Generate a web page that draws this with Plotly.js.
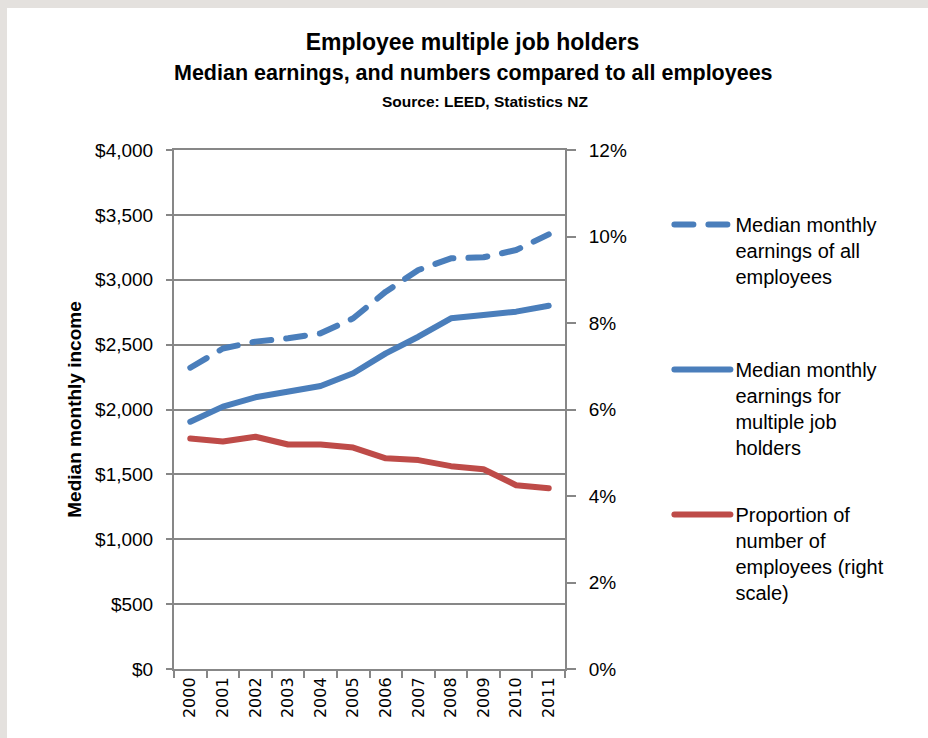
<!DOCTYPE html>
<html>
<head>
<meta charset="utf-8">
<script src="https://cdn.plot.ly/plotly-3.0.1.min.js"></script>
<style>
  html, body { margin: 0; padding: 0; background: #e4e1de; width: 928px; height: 738px; overflow: hidden; }
  #chart { position: absolute; left: 7px; top: 8px; width: 921px; height: 730px; background: #ffffff; }
  #chart .js-line { stroke-linecap: round; stroke-linejoin: round; }
  #chart .legendlines path { stroke-linecap: round; }
</style>
</head>
<body>
<div id="chart"></div>
<script>
const years = ["2000","2001","2002","2003","2004","2005","2006","2007","2008","2009","2010","2011"];
const allEmployees = [2322, 2470, 2523, 2549, 2587, 2703, 2908, 3075, 3165, 3173, 3229, 3350];
const multipleJob = [1906, 2022, 2094, 2137, 2181, 2279, 2433, 2561, 2703, 2728, 2754, 2800];
const proportion = [5.33, 5.26, 5.37, 5.19, 5.19, 5.12, 4.87, 4.83, 4.69, 4.62, 4.25, 4.18];

const names = [
  "Median monthly<br>earnings of all<br>employees<br>\u00a0",
  "Median monthly<br>earnings for<br>multiple job<br>holders",
  "Proportion of<br>number of<br>employees (right<br>scale)"
];
const titleLines = [
  "Employee multiple job holders",
  "Median earnings, and numbers compared to all employees",
  "Source: LEED, Statistics NZ"
];

const blue = "#4a7ebb";
const red = "#be4b48";
const grey = "#878787";
const fontFam = "Liberation Sans, Arial, sans-serif";

const traces = [
  { x: years, y: allEmployees, name: names[0], type: "scatter", mode: "lines",
    line: { color: blue, width: 6, dash: "19px,15px" }, legendgroup: "a", yaxis: "y" },
  { x: years, y: multipleJob, name: names[1], type: "scatter", mode: "lines",
    line: { color: blue, width: 6 }, legendgroup: "b", yaxis: "y" },
  { x: years, y: proportion, name: names[2], type: "scatter", mode: "lines",
    line: { color: red, width: 6 }, legendgroup: "c", yaxis: "y2" }
];

const layout = {
  width: 921, height: 730,
  paper_bgcolor: "#ffffff", plot_bgcolor: "#ffffff",
  margin: { l: 167, r: 363, t: 142, b: 69 },
  font: { family: fontFam, color: "#000000", size: 19 },
  title: {
    text: "<b>" + titleLines[0] + "</b>",
    font: { family: fontFam, size: 23, color: "#000000" },
    x: (472.5 - 7) / 921, xanchor: "center",
    yref: "container", y: 1 - 34 / 730, yanchor: "middle"
  },
  annotations: [
    { text: "<b>" + titleLines[1] + "</b>", xref: "paper", yref: "paper",
      x: (473.5 - 174) / 391, y: (661 - 65) / 519, xanchor: "center", yanchor: "middle",
      showarrow: false, font: { family: fontFam, size: 21.5, color: "#000000" } },
    { text: "<b>" + titleLines[2] + "</b>", xref: "paper", yref: "paper",
      x: (484.5 - 174) / 391, y: (661 - 93) / 519, xanchor: "center", yanchor: "middle",
      showarrow: false, font: { family: fontFam, size: 15.5, color: "#000000" } }
  ],
  showlegend: true,
  legend: {
    x: 1.267, xanchor: "left", y: 0.894, yanchor: "top",
    font: { family: fontFam, size: 20, color: "#000000" },
    itemwidth: 56, valign: "top", traceorder: "grouped", tracegroupgap: 38,
    bgcolor: "rgba(0,0,0,0)"
  },
  xaxis: {
    type: "category", categoryorder: "array", categoryarray: years,
    range: [-0.5, 11.5], showgrid: false, zeroline: false,
    showline: true, mirror: true, linecolor: grey, linewidth: 2,
    ticks: "outside", tickson: "boundaries", ticklen: 7, tickwidth: 2, tickcolor: grey,
    tickangle: -90,
    tickfont: { family: "DejaVu Sans, sans-serif", size: 16, color: "#000000" },
    fixedrange: true
  },
  yaxis: {
    range: [0, 4000], dtick: 500, tick0: 0, tickprefix: "$", tickformat: ",d",
    showgrid: true, gridcolor: grey, gridwidth: 2,
    zeroline: false, showline: true, linecolor: grey, linewidth: 2,
    ticks: "outside", ticklen: 6, tickwidth: 2, tickcolor: grey,
    ticklabelstandoff: 9,
    tickfont: { size: 19 },
    title: { text: "<b>Median monthly income</b>", font: { size: 19 }, standoff: 8 },
    fixedrange: true
  },
  yaxis2: {
    overlaying: "y", side: "right", anchor: "x",
    range: [0, 12], dtick: 2, tick0: 0, ticksuffix: "%",
    showgrid: false, zeroline: false, showline: true, linecolor: grey, linewidth: 2,
    ticks: "outside", ticklen: 9, tickwidth: 2, tickcolor: grey,
    ticklabelstandoff: 9,
    tickfont: { size: 19 },
    fixedrange: true
  }
};

Plotly.newPlot("chart", traces, layout, { displayModeBar: false, staticPlot: true });
</script>
</body>
</html>
